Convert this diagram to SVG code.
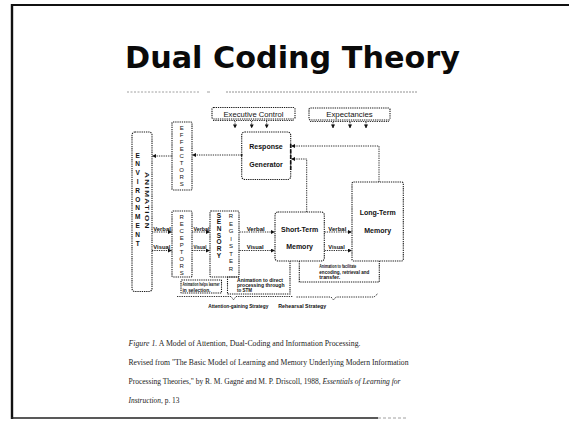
<svg xmlns="http://www.w3.org/2000/svg" width="569" height="423" viewBox="0 0 569 423">
<style>
.bx{fill:none;stroke:#1a1a1a;stroke-width:1.1;stroke-dasharray:1.3 0.9}
.ln{fill:none;stroke:#1a1a1a;stroke-width:0.9;stroke-dasharray:1.3 1}
.sans{font-family:"Liberation Sans",Arial,sans-serif;fill:#111}
.lbl{font-family:"Liberation Sans",Arial,sans-serif;font-size:7px;font-weight:bold;fill:#111;text-anchor:middle}
.tiny{font-family:"Liberation Sans",Arial,sans-serif;font-size:4.6px;font-weight:bold;fill:#111}
.vl{font-family:"Liberation Sans",Arial,sans-serif;font-size:5.6px;font-weight:bold;fill:#111}
.lt{font-family:"Liberation Sans",Arial,sans-serif;font-size:6px;fill:#111;text-anchor:middle}
.ltb{font-family:"Liberation Sans",Arial,sans-serif;font-size:6.5px;font-weight:bold;fill:#111;text-anchor:middle}
.cap{font-family:"Liberation Serif","Times New Roman",serif;font-size:7.5px;fill:#222}
</style>
<defs>
<marker id="ah" markerWidth="4" markerHeight="4" refX="3.6" refY="2" orient="auto" markerUnits="userSpaceOnUse">
<path d="M0,0 L4,2 L0,4 z" fill="#111"/>
</marker>
</defs>
<rect width="569" height="423" fill="#fff"/>
<g id="frame">
<line x1="12" y1="4" x2="12" y2="419" stroke="#111" stroke-width="2.4"/>
<line x1="11" y1="5" x2="569" y2="5" stroke="#111" stroke-width="1.8"/>
<line x1="11" y1="418" x2="378" y2="418" stroke="#222" stroke-width="1.4"/>
<line x1="378" y1="418" x2="406" y2="418" stroke="#888" stroke-width="0.8" stroke-dasharray="3 2"/>
</g>
<g id="title">
<text x="125" y="68" font-family="'DejaVu Sans',Verdana,sans-serif" font-weight="bold" font-size="30.5" textLength="335" lengthAdjust="spacingAndGlyphs" fill="#0a0a0a">Dual Coding Theory</text>
<line x1="127" y1="92" x2="200" y2="92" stroke="#888" stroke-width="0.8" stroke-dasharray="2 1.5"/>
<line x1="207" y1="92" x2="210" y2="92" stroke="#888" stroke-width="0.8"/>
<line x1="226" y1="92" x2="417" y2="92" stroke="#777" stroke-width="0.8" stroke-dasharray="2 1"/>
</g>
<g id="connectors">
<line class="ln" x1="241.7" y1="155" x2="192.5" y2="155" marker-end="url(#ah)"/>
<line class="ln" x1="171.7" y1="156" x2="152.5" y2="156" marker-end="url(#ah)"/>
<line class="ln" x1="152" y1="232" x2="171.5" y2="232" marker-end="url(#ah)"/>
<line class="ln" x1="152" y1="250.5" x2="171.5" y2="250.5" marker-end="url(#ah)"/>
<line class="ln" x1="192" y1="232" x2="209.5" y2="232" marker-end="url(#ah)"/>
<line class="ln" x1="192" y1="250.5" x2="209.5" y2="250.5" marker-end="url(#ah)"/>
<line class="ln" x1="239.5" y1="232" x2="274.5" y2="232" marker-end="url(#ah)"/>
<line class="ln" x1="239.5" y1="250.5" x2="274.5" y2="250.5" marker-end="url(#ah)"/>
<line class="ln" x1="324.5" y1="232" x2="351.5" y2="232" marker-end="url(#ah)"/>
<line class="ln" x1="324.5" y1="250.5" x2="351.5" y2="250.5" marker-end="url(#ah)"/>
<path class="ln" d="M379,182 V146 H291.5" marker-end="url(#ah)"/>
<path class="ln" d="M306.7,212 V159 H291.5" marker-end="url(#ah)"/>
<line class="ln" x1="235" y1="121" x2="235" y2="128" marker-end="url(#ah)"/>
<line class="ln" x1="251.7" y1="121" x2="251.7" y2="128" marker-end="url(#ah)"/>
<line class="ln" x1="266.7" y1="121" x2="266.7" y2="128" marker-end="url(#ah)"/>
<line class="ln" x1="333" y1="122" x2="333" y2="128" marker-end="url(#ah)"/>
<line class="ln" x1="350" y1="122" x2="350" y2="128" marker-end="url(#ah)"/>
<line class="ln" x1="366" y1="122" x2="366" y2="128" marker-end="url(#ah)"/>
<text class="vl" x="153.3" y="230.6" textLength="17.5" lengthAdjust="spacingAndGlyphs">Verbal</text>
<text class="vl" x="153.3" y="249.1" textLength="17" lengthAdjust="spacingAndGlyphs">Visual</text>
<text class="vl" x="193.5" y="230.6" textLength="16" lengthAdjust="spacingAndGlyphs">Verbal</text>
<text class="vl" x="193.5" y="249.1" textLength="13" lengthAdjust="spacingAndGlyphs">Visual</text>
<text class="vl" x="246.7" y="230.6" textLength="18" lengthAdjust="spacingAndGlyphs">Verbal</text>
<text class="vl" x="246.7" y="249.1" textLength="17" lengthAdjust="spacingAndGlyphs">Visual</text>
<text class="vl" x="328.3" y="230.6" textLength="18" lengthAdjust="spacingAndGlyphs">Verbal</text>
<text class="vl" x="328.3" y="249.1" textLength="16.5" lengthAdjust="spacingAndGlyphs">Visual</text>
<path class="ln" d="M177,296.5 H231 L233.5,299.8 L236,296.5 H293"/>
<path class="ln" d="M296.5,297 H331 L333.5,300 L336,297 H374 L378,293.5"/>
<text class="tiny" x="208.3" y="307.8" textLength="60" lengthAdjust="spacingAndGlyphs">Attention-gaining Strategy</text>
<text class="tiny" x="278.3" y="307.8" textLength="48" lengthAdjust="spacingAndGlyphs">Rehearsal Strategy</text>
</g>
<g id="executive-control">
<rect class="bx" x="212" y="107.5" width="83" height="11.5" rx="1.5"/>
<line class="ln" x1="213" y1="120.5" x2="294" y2="120.5"/>
<text class="sans" x="253.5" y="116.6" font-size="7.5" text-anchor="middle" textLength="60" lengthAdjust="spacingAndGlyphs">Executive Control</text>
</g>
<g id="expectancies">
<rect class="bx" x="309" y="108" width="81" height="12" rx="1.5"/>
<line class="ln" x1="310" y1="121.5" x2="389" y2="121.5"/>
<text class="sans" x="349.5" y="116.6" font-size="7.5" text-anchor="middle" textLength="46.5" lengthAdjust="spacingAndGlyphs">Expectancies</text>
</g>
<g id="environment">
<rect class="bx" x="132" y="132" width="20" height="159.5" rx="3"/>
<text class="ltb" x="137.7"><tspan x="137.7" y="157.5">E</tspan><tspan x="137.7" y="166.3">N</tspan><tspan x="137.7" y="175.1">V</tspan><tspan x="137.7" y="183.9">I</tspan><tspan x="137.7" y="192.7">R</tspan><tspan x="137.7" y="201.5">O</tspan><tspan x="137.7" y="210.3">N</tspan><tspan x="137.7" y="219.1">M</tspan><tspan x="137.7" y="227.9">E</tspan><tspan x="137.7" y="236.7">N</tspan><tspan x="137.7" y="245.5">T</tspan></text>
<text class="sans" font-size="5.8" font-weight="bold" transform="translate(144.8,172) rotate(90)" textLength="58" lengthAdjust="spacingAndGlyphs" letter-spacing="1">ANIMATION</text>
</g>
<g id="effectors">
<rect class="bx" x="172" y="122" width="20" height="68" rx="1"/>
<text class="lt"><tspan x="181.7" y="130">E</tspan><tspan x="181.7" y="137">F</tspan><tspan x="181.7" y="144">F</tspan><tspan x="181.7" y="151">E</tspan><tspan x="181.7" y="158">C</tspan><tspan x="181.7" y="165">T</tspan><tspan x="181.7" y="172">O</tspan><tspan x="181.7" y="179">R</tspan><tspan x="181.7" y="186">S</tspan></text>
</g>
<g id="receptors">
<rect class="bx" x="172" y="211" width="20" height="66" rx="1"/>
<text class="lt"><tspan x="181.7" y="218.5">R</tspan><tspan x="181.7" y="225.5">E</tspan><tspan x="181.7" y="232.5">C</tspan><tspan x="181.7" y="239.5">E</tspan><tspan x="181.7" y="246.5">P</tspan><tspan x="181.7" y="253.5">T</tspan><tspan x="181.7" y="260.5">O</tspan><tspan x="181.7" y="267.5">R</tspan><tspan x="181.7" y="274.5">S</tspan></text>
</g>
<g id="sensory-register">
<rect class="bx" x="210" y="211" width="29" height="66" rx="1"/>
<text class="ltb"><tspan x="219" y="217.5">S</tspan><tspan x="219" y="224.2">E</tspan><tspan x="219" y="230.9">N</tspan><tspan x="219" y="237.6">S</tspan><tspan x="219" y="244.3">O</tspan><tspan x="219" y="251">R</tspan><tspan x="219" y="257.7">Y</tspan></text>
<text class="lt" font-size="5.6"><tspan x="231" y="218">R</tspan><tspan x="231" y="225.5">E</tspan><tspan x="231" y="233">G</tspan><tspan x="231" y="240.5">I</tspan><tspan x="231" y="248">S</tspan><tspan x="231" y="255.5">T</tspan><tspan x="231" y="263">E</tspan><tspan x="231" y="270.5">R</tspan></text>
</g>
<g id="response-generator">
<rect class="bx" x="241.7" y="132" width="49" height="47.5" rx="3"/>
<line x1="290.7" y1="144" x2="290.7" y2="170" stroke="#111" stroke-width="1.6" stroke-dasharray="4 1.5"/>
<circle cx="241.7" cy="155" r="1" fill="#111"/>
<text class="lbl" x="266" y="148.5">Response</text>
<text class="lbl" x="266" y="166.8">Generator</text>
</g>
<g id="short-term-memory">
<rect class="bx" x="275" y="212" width="49.3" height="49" rx="3"/>
<text class="lbl" x="299.6" y="231.5">Short-Term</text>
<text class="lbl" x="299.6" y="248.5">Memory</text>
</g>
<g id="long-term-memory">
<rect class="bx" x="352" y="182" width="51.3" height="79" rx="1.5"/>
<text class="lbl" x="377.7" y="215">Long-Term</text>
<text class="lbl" x="377.7" y="232.5">Memory</text>
</g>
<g id="note-receptors">
<rect class="bx" x="181" y="280" width="40.5" height="13" rx="0.5"/>
<text class="tiny" x="182.5" y="285.8" textLength="37" lengthAdjust="spacingAndGlyphs">Animation helps learner</text>
<text class="tiny" x="182.5" y="291.8" textLength="28" lengthAdjust="spacingAndGlyphs">in selection.</text>
</g>
<g id="note-sensory">
<path class="bx" d="M239,277 H227.5 V294 H290 V261"/>
<text class="tiny" x="237" y="281.5" textLength="46" lengthAdjust="spacingAndGlyphs">Animation to direct</text>
<text class="tiny" x="237" y="286.8" textLength="47.5" lengthAdjust="spacingAndGlyphs">processing through</text>
<text class="tiny" x="237" y="292.2" textLength="15" lengthAdjust="spacingAndGlyphs">to STM</text>
</g>
<g id="note-ltm">
<path class="bx" d="M299.3,261 V282 H379.3 V261"/>
<text class="tiny" x="319.3" y="268.3" textLength="37" lengthAdjust="spacingAndGlyphs">Animation to facilitate</text>
<text class="tiny" x="319.3" y="273.5" textLength="50" lengthAdjust="spacingAndGlyphs">encoding, retrieval and</text>
<text class="tiny" x="319.3" y="279.3" textLength="21" lengthAdjust="spacingAndGlyphs">transfer.</text>
</g>
<g id="caption">
<text class="cap" x="128.5" y="346" textLength="232" lengthAdjust="spacingAndGlyphs"><tspan font-style="italic">Figure 1.</tspan> A Model of Attention, Dual-Coding and Information Processing.</text>
<text class="cap" x="128.5" y="364.5" textLength="280" lengthAdjust="spacingAndGlyphs">Revised from "The Basic Model of Learning and Memory Underlying Modern Information</text>
<text class="cap" x="128.5" y="384" textLength="272" lengthAdjust="spacingAndGlyphs">Processing Theories," by R. M. Gagné and M. P. Driscoll, 1988, <tspan font-style="italic">Essentials of Learning for</tspan></text>
<text class="cap" x="128.5" y="403" textLength="51" lengthAdjust="spacingAndGlyphs"><tspan font-style="italic">Instruction</tspan>, p. 13</text>
</g>
</svg>
